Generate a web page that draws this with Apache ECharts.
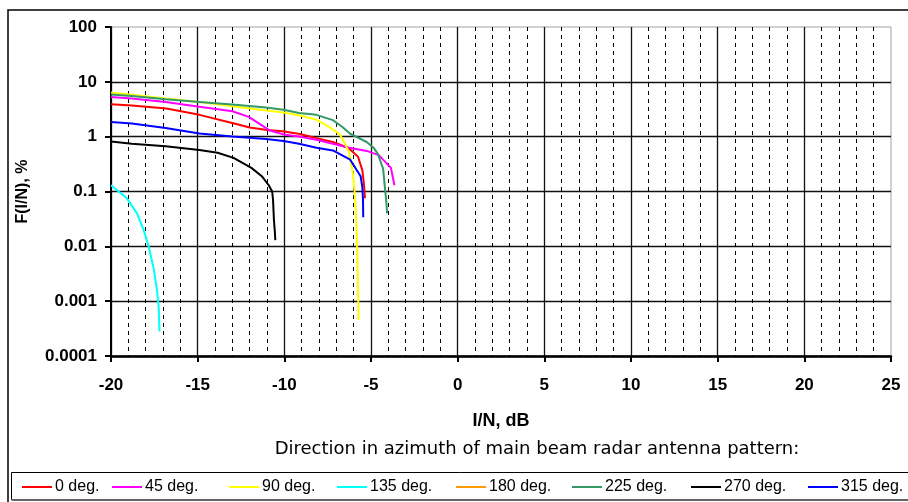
<!DOCTYPE html>
<html>
<head>
<meta charset="utf-8">
<script src="https://cdn.jsdelivr.net/npm/echarts@6/dist/echarts.min.js"></script>
<style>
html,body{margin:0;padding:0;background:#fff;}
#chart{width:908px;height:502px;}
</style>
</head>
<body>
<div id="chart"></div>
<script>
// ---- data ----
const seriesNames = ['0 deg.', '45 deg.', '90 deg.', '135 deg.', '180 deg.', '225 deg.', '270 deg.', '315 deg.'];
const seriesColors = ['#FF0000', '#FF00FF', '#FFFF00', '#00FFFF', '#FF9900', '#339966', '#000000', '#0000FF'];

const x0 = [-20, -18.8, -16.8, -14.9, -12.95, -12.0, -11.0, -10.1, -9.1, -8.2, -7.2, -6.3, -5.75, -5.5, -5.4, -5.35];
const y0 = [3.9, 3.7, 3.27, 2.5, 1.75, 1.47, 1.32, 1.25, 1.12, 0.95, 0.8, 0.62, 0.43, 0.245, 0.13, 0.075];

const x45 = [-20, -18.8, -16.85, -14.9, -13.0, -12.05, -11.45, -10.85, -10.05, -9.15, -8.15, -7.2, -6.25, -5.25, -4.55, -3.85, -3.65];
const y45 = [5.3, 4.96, 4.3, 3.5, 2.9, 2.3, 1.73, 1.3, 1.1, 1.01, 0.88, 0.74, 0.63, 0.55, 0.46, 0.27, 0.13];

const x90 = [-20, -18.8, -16.85, -14.9, -13.0, -11.05, -10.05, -9.15, -8.15, -7.4, -6.8, -6.45, -6.25, -6.05, -5.95, -5.88, -5.8, -5.75, -5.72];
const y90 = [6.4, 5.8, 4.95, 4.3, 3.6, 3.0, 2.75, 2.46, 2.04, 1.5, 1.1, 0.69, 0.5, 0.22, 0.1, 0.045, 0.01, 0.002, 0.00046];

const x135 = [-20, -19.08, -18.5, -18.12, -17.83, -17.54, -17.35, -17.25, -17.2];
const y135 = [0.13, 0.075, 0.04, 0.02, 0.01, 0.004, 0.0016, 0.0008, 0.00028];

const x180 = [];
const y180 = [];

const x225 = [-20, -18.8, -16.85, -14.9, -13.0, -11.05, -10.05, -9.15, -8.15, -7.2, -6.65, -6.2, -5.25, -4.85, -4.6, -4.3, -4.2, -4.12, -4.07];
const y225 = [5.9, 5.5, 4.8, 4.3, 3.85, 3.4, 3.1, 2.7, 2.5, 2.0, 1.5, 1.13, 0.8, 0.63, 0.48, 0.26, 0.12, 0.068, 0.04];

const x270 = [-20, -18.8, -16.85, -14.9, -13.85, -12.93, -11.9, -11.3, -10.9, -10.7, -10.65, -10.6, -10.55, -10.52];
const y270 = [0.82, 0.74, 0.67, 0.57, 0.51, 0.41, 0.27, 0.19, 0.13, 0.1, 0.069, 0.03, 0.019, 0.013];

const x315 = [-20, -18.8, -16.85, -14.9, -13.0, -11.05, -10.05, -9.15, -8.15, -7.2, -6.2, -5.6, -5.5, -5.46, -5.45];
const y315 = [1.85, 1.73, 1.44, 1.14, 1.01, 0.91, 0.83, 0.74, 0.63, 0.56, 0.38, 0.19, 0.12, 0.069, 0.034];

const xSeries = [x0, x45, x90, x135, x180, x225, x270, x315];
const ySeries = [y0, y45, y90, y135, y180, y225, y270, y315];

const yTickLabels = ['0.0001', '0.001', '0.01', '0.1', '1', '10', '100'];
const xTickLabels = ['-20', '-15', '-10', '-5', '0', '5', '10', '15', '20', '25'];

const xTitle = 'I/N, dB';
const yTitle = 'F(I/N), %';
const subTitle = 'Direction in azimuth of main beam radar antenna pattern:';

// ---- chart ----
const FONT = '"Liberation Sans", Arial, sans-serif';
const legendLefts = [22, 112, 229, 337, 456, 572, 691, 808];

const chart = echarts.init(document.getElementById('chart'), null, {renderer: 'canvas'});

const series = seriesNames.map((n, i) => ({
  name: n,
  type: 'line',
  data: xSeries[i].map((x, k) => [x, ySeries[i][k]]),
  showSymbol: false,
  symbol: 'none',
  lineStyle: {color: seriesColors[i], width: 2},
  itemStyle: {color: seriesColors[i]},
  emphasis: {disabled: true},
  z: 3
}));

const legends = seriesNames.map((n, i) => ({
  data: [n],
  left: legendLefts[i],
  top: 479,
  icon: 'rect',
  itemWidth: 30,
  itemHeight: 2,
  itemGap: 0,
  padding: 0,
  selectedMode: false,
  textStyle: {fontFamily: FONT, fontSize: 16, color: '#000', padding: [0, 0, 0, -2]}
}));

chart.setOption({
  animation: false,
  backgroundColor: '#fff',
  grid: {
    left: 111, right: 17, top: 27, bottom: 146,
    show: true, borderColor: '#a0a0a0', borderWidth: 1, backgroundColor: 'transparent'
  },
  legend: legends,
  xAxis: {
    type: 'value',
    min: -20, max: 25, interval: 5,
    name: xTitle,
    nameLocation: 'middle',
    nameGap: 56,
    nameTextStyle: {fontFamily: FONT, fontSize: 18, fontWeight: 'bold', color: '#000'},
    axisLine: {show: true, onZero: false, lineStyle: {color: '#000', width: 2.5}},
    axisTick: {show: true, inside: false, length: 6, lineStyle: {color: '#000', width: 2}},
    axisLabel: {
      margin: 21, fontFamily: FONT, fontSize: 17, fontWeight: 'bold', color: '#000',
      formatter: (v) => xTickLabels[Math.round((v + 20) / 5)]
    },
    splitLine: {show: true, showMaxLine: false, lineStyle: {color: '#111', width: 1.3}},
    minorTick: {show: false, splitNumber: 5},
    minorSplitLine: {show: true, lineStyle: {color: '#000', width: 1, type: [4, 4]}}
  },
  yAxis: {
    type: 'log',
    logBase: 10,
    min: 0.0001, max: 100,
    splitNumber: 6,
    name: yTitle,
    nameLocation: 'middle',
    nameGap: 80,
    nameTextStyle: {fontFamily: FONT, fontSize: 16, fontWeight: 'bold', color: '#000'},
    axisLine: {show: true, onZero: false, lineStyle: {color: '#000', width: 2}},
    axisTick: {show: true, inside: false, length: 6, lineStyle: {color: '#000', width: 2}},
    axisLabel: {
      margin: 14, fontFamily: FONT, fontSize: 17, fontWeight: 'bold', color: '#000',
      formatter: (v) => yTickLabels[Math.round(Math.log10(v)) + 4]
    },
    splitLine: {show: true, showMaxLine: false, lineStyle: {color: '#111', width: 1.3}},
    minorTick: {show: false},
    minorSplitLine: {show: false}
  },
  graphic: [
    {type: 'rect', shape: {x: 8, y: 10, width: 920, height: 520}, style: {fill: 'none', stroke: '#000', lineWidth: 1.5}, z: 0, silent: true},
    {type: 'rect', shape: {x: 11.5, y: 472.5, width: 920, height: 27}, style: {fill: 'none', stroke: '#000', lineWidth: 1}, z: 0, silent: true},
    {type: 'line', shape: {x1: 11.5, y1: 500, x2: 908, y2: 500}, style: {stroke: '#666', lineWidth: 2}, z: 0, silent: true},
    {type: 'text', x: 537, y: 449, style: {text: subTitle, fontFamily: '"DejaVu Sans", sans-serif', fontSize: 18, fill: '#000', align: 'center', verticalAlign: 'middle'}, z: 5, silent: true}
  ],
  series: series
});
</script>
</body>
</html>
